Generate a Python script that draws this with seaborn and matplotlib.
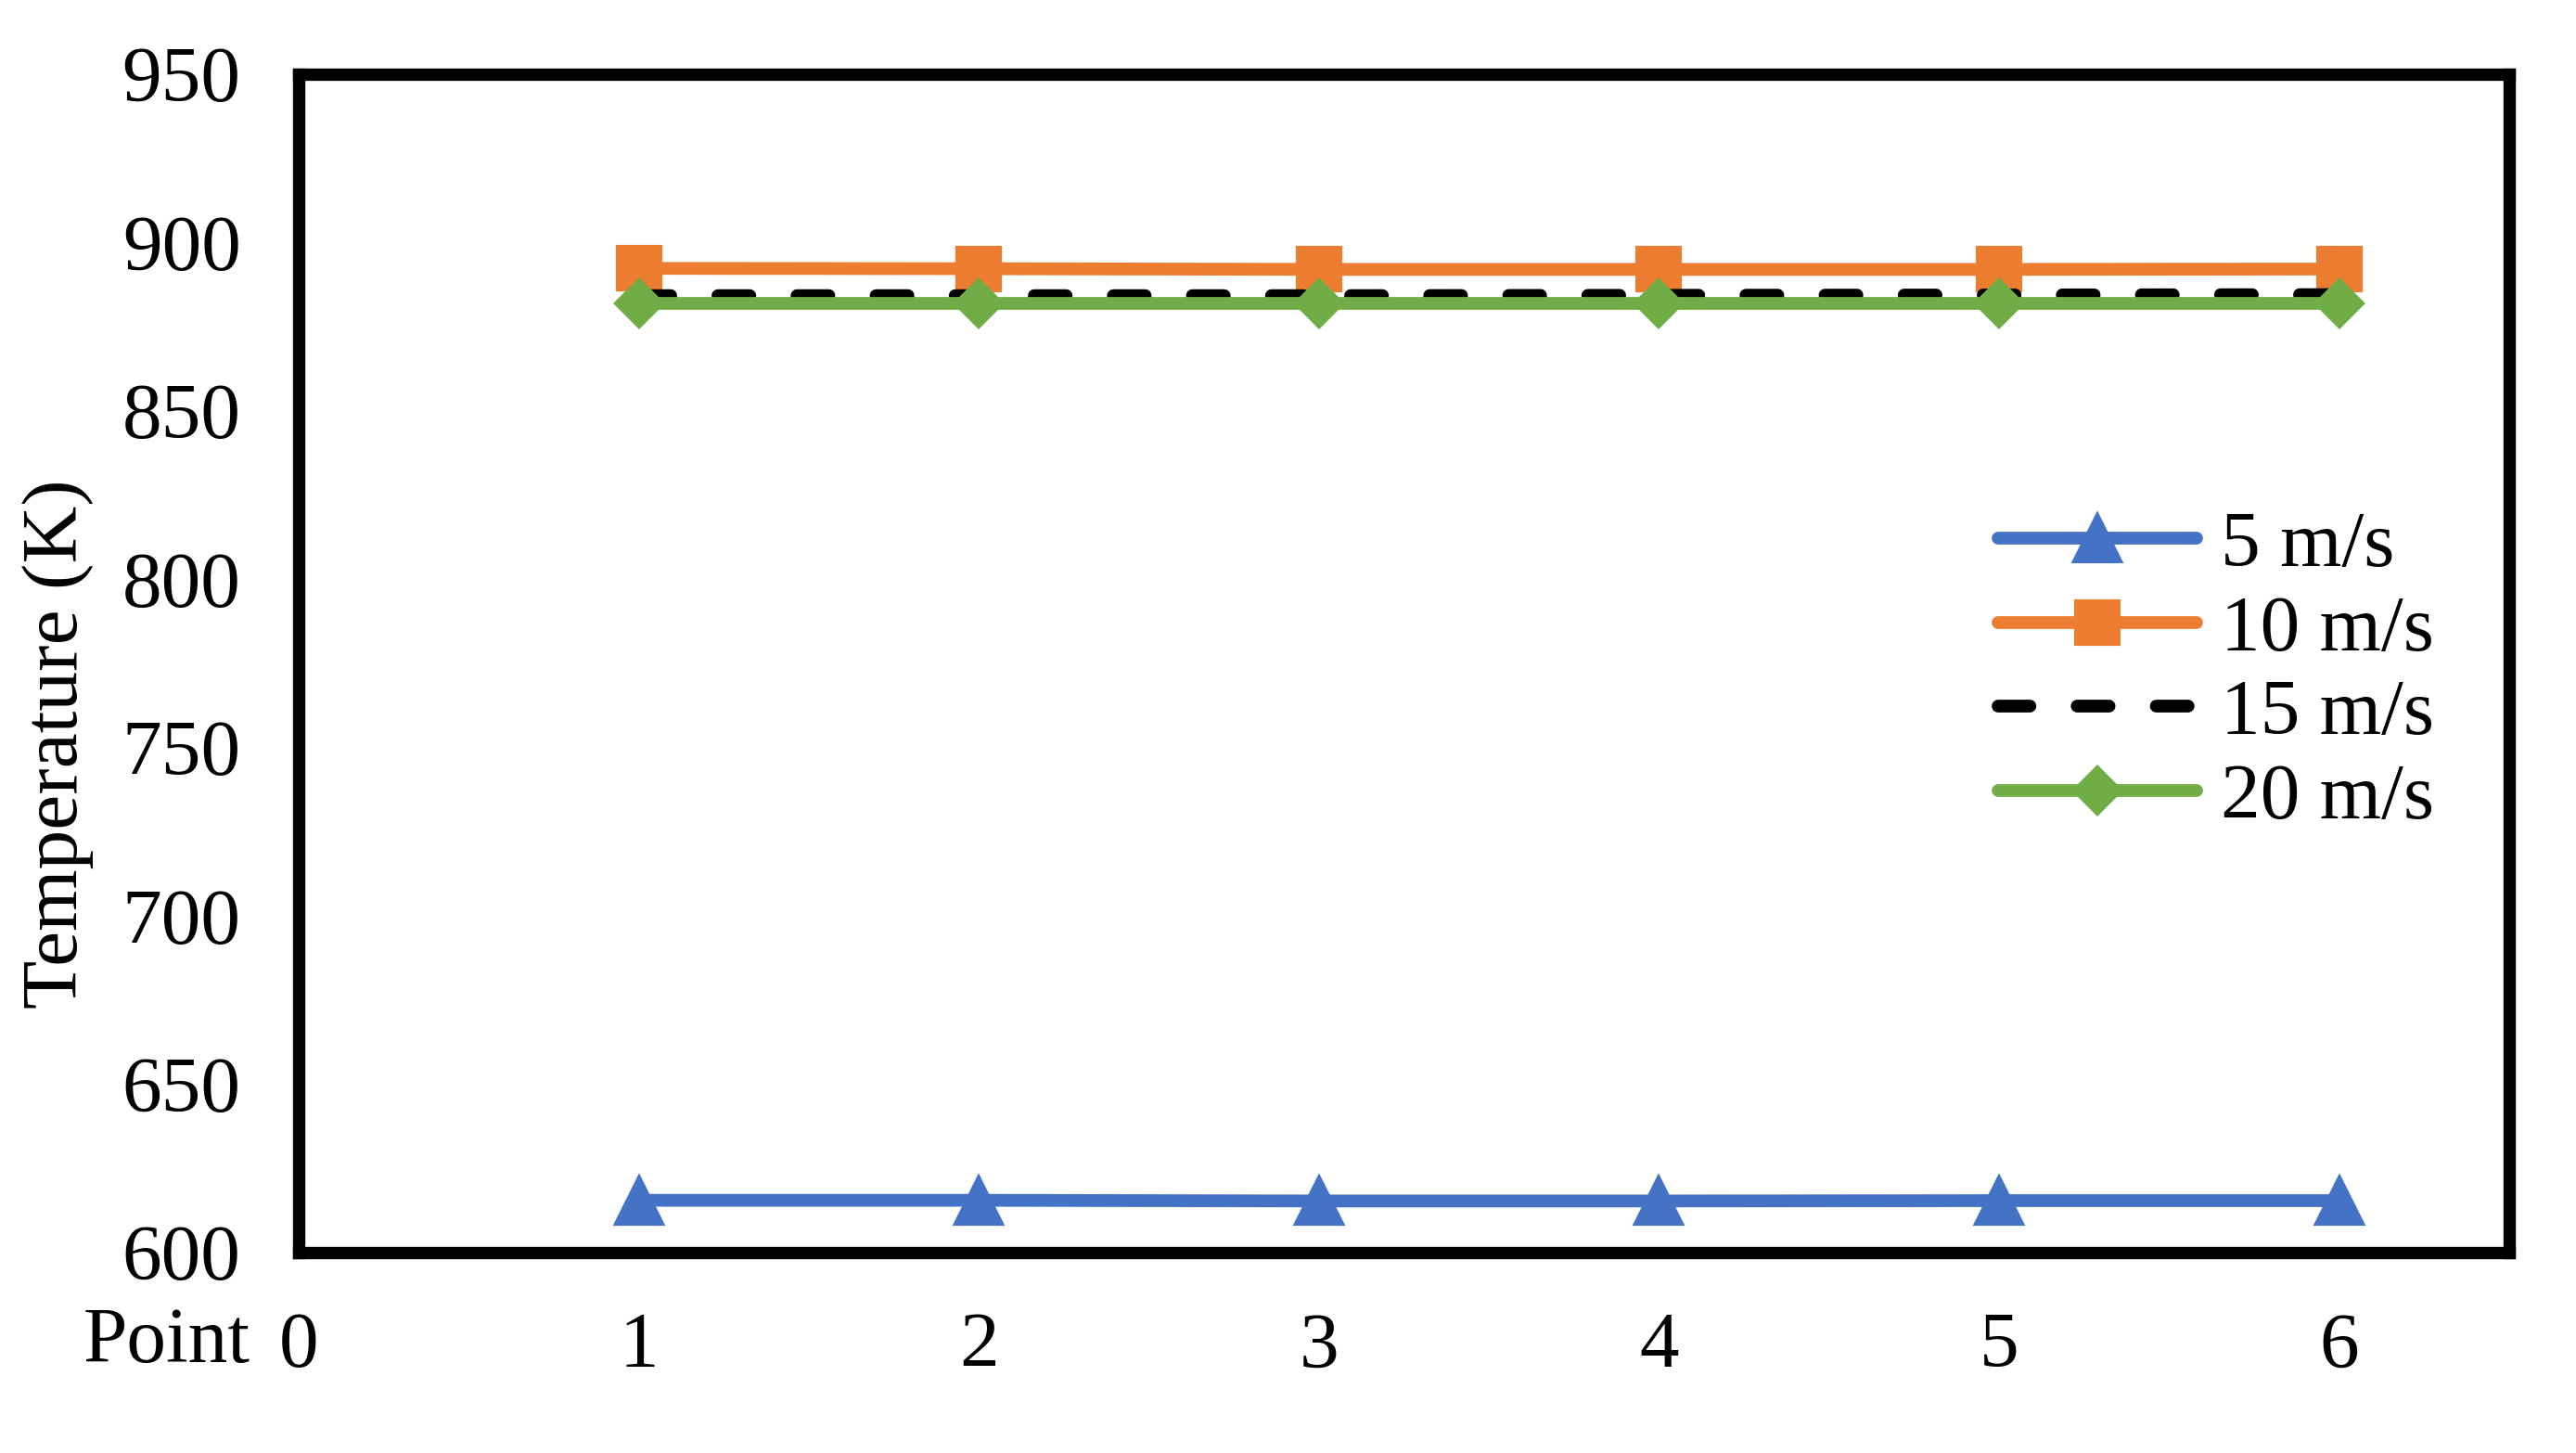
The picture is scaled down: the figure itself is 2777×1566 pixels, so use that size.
import numpy as np
import pandas as pd
import matplotlib
matplotlib.use("Agg")
import matplotlib.pyplot as plt
import seaborn as sns

# data
points = [1, 2, 3, 4, 5, 6]
temp_5 = [615.5, 615.5, 615.3, 615.3, 615.4, 615.4]
temp_10 = [892.3, 892.2, 892.0, 892.0, 892.0, 892.1]
temp_15 = [884.2, 884.2, 884.2, 884.3, 884.4, 884.5]
temp_20 = [882.0, 882.0, 882.0, 882.0, 882.0, 882.0]
labels = ["5 m/s", "10 m/s", "15 m/s", "20 m/s"]
y_ticks = [600, 650, 700, 750, 800, 850, 900, 950]
x_ticks = [0, 1, 2, 3, 4, 5, 6]

sns.set_style("white")
plt.rcParams["font.family"] = ["Liberation Serif", "DejaVu Serif"]
plt.rcParams["font.size"] = 20.5
plt.rcParams["text.color"] = "black"
plt.rcParams["xtick.color"] = "black"
plt.rcParams["ytick.color"] = "black"
plt.rcParams["axes.labelcolor"] = "black"

fig = plt.figure(figsize=(2777 / 300, 1566 / 300), dpi=300)
ax = fig.add_axes([0.116, 0.138, 0.858, 0.811])

series = [
    (temp_5, labels[0], "#4472C4", "^", 12, "-"),
    (temp_10, labels[1], "#ED7D31", "s", 11, "-"),
    (temp_15, labels[2], "black", None, 0, (0, (2.5, 3.7))),
    (temp_20, labels[3], "#70AD47", "D", 8.6, "-"),
]
for vals, lab, col, mk, ms, ls in series:
    df = pd.DataFrame({"Point": points, "T": vals})
    sns.lineplot(data=df, x="Point", y="T", ax=ax, color=col, label=lab,
                 marker=mk, markersize=ms, markeredgecolor=col,
                 markeredgewidth=1, linewidth=3.3, linestyle=ls,
                 solid_capstyle="round", dash_capstyle="round")

ax.set_xlim(0, 6.5)
ax.set_ylim(600, 950)
ax.set_xticks(x_ticks)
ax.set_yticks(y_ticks)
ax.tick_params(axis="both", direction="inout", length=12, width=1.5,
               labelsize=20.5, color="black", labelcolor="black")
ax.tick_params(axis="x", pad=9.5)
ax.tick_params(axis="y", pad=9)
for sp in ax.spines.values():
    sp.set_visible(True)
    sp.set_color("black")
    sp.set_linewidth(3.2)

ax.set_ylabel("Temperature (K)", fontsize=20.5)
ax.yaxis.set_label_coords(-0.093, 0.432)
ax.set_xlabel("Point", fontsize=20.5)
ax.xaxis.set_label_coords(-0.022, -0.077)
ax.xaxis.label.set_horizontalalignment("right")
ax.xaxis.label.set_verticalalignment("center")

ax.legend(loc="center left", bbox_to_anchor=(0.769, 0.492), frameon=False,
          fontsize=20.5, handlelength=2.5, handletextpad=0.3,
          labelspacing=0.15, borderpad=0, borderaxespad=0)

fig.savefig("out.png", dpi=300)
